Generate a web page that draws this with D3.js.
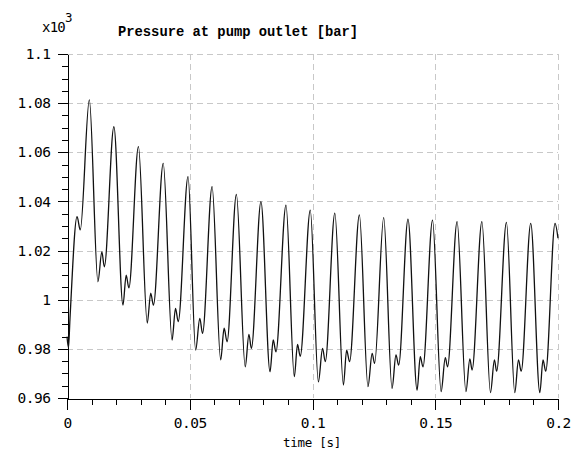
<!DOCTYPE html>
<html>
<head>
<meta charset="utf-8">
<script src="https://cdn.jsdelivr.net/npm/d3@7"></script>
<style>
  html, body { margin: 0; padding: 0; background: #fff; }
  svg { display: block; }
  .tick text { font-family: "DejaVu Sans Mono", monospace; font-size: 14.5px; letter-spacing: -0.5px; fill: #000; }
</style>
</head>
<body>
<svg id="chart" width="586" height="464"></svg>
<script>
// ---- data (pressure in bar x10^3) ----
const timeS = [
  0.0000, 0.0006, 0.0012, 0.0041, 0.0054, 0.0091, 0.0126, 0.0142, 0.0152,
  0.0191, 0.0228, 0.0241, 0.0252, 0.0291, 0.0327, 0.0341, 0.0352,
  0.0392, 0.0428, 0.0442, 0.0453, 0.0493, 0.0524, 0.0541, 0.0552,
  0.0591, 0.0626, 0.0640, 0.0652, 0.0690, 0.0726, 0.0741, 0.0751,
  0.0790, 0.0827, 0.0840, 0.0851, 0.0892, 0.0926, 0.0939, 0.0950,
  0.0991, 0.1024, 0.1041, 0.1052, 0.1091, 0.1126, 0.1139, 0.1151,
  0.1191, 0.1226, 0.1243, 0.1253, 0.1290, 0.1324, 0.1340, 0.1351,
  0.1389, 0.1426, 0.1439, 0.1450, 0.1489, 0.1524, 0.1541, 0.1550,
  0.1589, 0.1625, 0.1641, 0.1650, 0.1690, 0.1725, 0.1741, 0.1750,
  0.1790, 0.1824, 0.1839, 0.1850, 0.1889, 0.1926, 0.1939, 0.1950,
  0.1988, 0.2000
];
const pressure = [
  0.9850, 0.9805, 0.9920, 1.0338, 1.0284, 1.0813, 1.0073, 1.0195, 1.0134,
  1.0704, 0.9978, 1.0100, 1.0048, 1.0623, 0.9905, 1.0027, 0.9978,
  1.0555, 0.9836, 0.9965, 0.9911, 1.0501, 0.9795, 0.9924, 0.9863,
  1.0460, 0.9755, 0.9884, 0.9829, 1.0429, 0.9727, 0.9859, 0.9802,
  1.0399, 0.9707, 0.9836, 0.9788, 1.0385, 0.9687, 0.9818, 0.9770,
  1.0365, 0.9666, 0.9802, 0.9748, 1.0352, 0.9653, 0.9795, 0.9748,
  1.0345, 0.9646, 0.9782, 0.9741, 1.0334, 0.9639, 0.9775, 0.9734,
  1.0328, 0.9632, 0.9768, 0.9727, 1.0324, 0.9626, 0.9764, 0.9727,
  1.0318, 0.9626, 0.9759, 0.9714, 1.0318, 0.9622, 0.9755, 0.9709,
  1.0315, 0.9622, 0.9755, 0.9709, 1.0311, 0.9622, 0.9755, 0.9709,
  1.0311, 1.0250
];
const xTicks = [0, 0.05, 0.1, 0.15, 0.2];
const xTickLabels = ["0", "0.05", "0.1", "0.15", "0.2"];
const yTicks = [0.96, 0.98, 1.0, 1.02, 1.04, 1.06, 1.08, 1.1];
const yTickLabels = ["0.96", "0.98", "1", "1.02", "1.04", "1.06", "1.08", "1.1"];
const xMinor = [0.01,0.02,0.03,0.04,0.06,0.07,0.08,0.09,0.11,0.12,0.13,0.14,0.16,0.17,0.18,0.19];
const yMinor = [0.965,0.97,0.975,0.985,0.99,0.995,1.005,1.01,1.015,1.025,1.03,1.035,1.045,1.05,1.055,1.065,1.07,1.075,1.085,1.09,1.095];
const titleText = "Pressure at pump outlet [bar]";
const xLabelText = "time [s]";

const svg = d3.select("#chart");
const L = 67, R = 558, T = 54, B = 398;
const x = d3.scaleLinear().domain([0, 0.2]).range([L, R]);
const y = d3.scaleLinear().domain([0.96, 1.1]).range([B, T]);

// grid
const grid = svg.append("g").attr("stroke", "#c8c8c8").attr("stroke-width", 1).attr("stroke-dasharray", "6,4").attr("shape-rendering", "crispEdges");
grid.selectAll("line.gx").data(xTicks.filter(d => d > 0)).join("line")
  .attr("x1", d => Math.round(x(d)) + 0.5).attr("x2", d => Math.round(x(d)) + 0.5)
  .attr("y1", T).attr("y2", B);
grid.selectAll("line.gy").data(yTicks.filter(d => d > 0.96)).join("line")
  .attr("y1", d => Math.round(y(d)) + 0.5).attr("y2", d => Math.round(y(d)) + 0.5)
  .attr("x1", L).attr("x2", R);

// minor ticks
const xMinAxis = d3.axisBottom(x).tickValues(xMinor).tickSize(6).tickFormat("").tickSizeOuter(0);
svg.append("g").attr("transform", `translate(0,${B + 0.5})`).call(xMinAxis).call(g => g.select(".domain").remove());
const yMinAxis = d3.axisLeft(y).tickValues(yMinor).tickSize(6).tickFormat("").tickSizeOuter(0);
svg.append("g").attr("transform", `translate(${L + 0.5},0)`).call(yMinAxis).call(g => g.select(".domain").remove());

// major axes
const xAxis = d3.axisBottom(x).tickValues(xTicks).tickSize(11).tickSizeOuter(0)
  .tickFormat((d, i) => xTickLabels[i]).tickPadding(8);
svg.append("g").attr("transform", `translate(0,${B + 0.5})`).call(xAxis);
const yAxis = d3.axisLeft(y).tickValues(yTicks).tickSize(10).tickSizeOuter(0)
  .tickFormat((d, i) => yTickLabels[i]).tickPadding(7);
svg.append("g").attr("transform", `translate(${L + 0.5},0)`).call(yAxis);
svg.selectAll(".domain, .tick line").attr("stroke", "#000").attr("shape-rendering", "crispEdges");

// series
const pts = timeS.map((t, i) => [t, pressure[i]]);
const line = d3.line().x(d => x(d[0])).y(d => y(d[1])).curve(d3.curveMonotoneX);
svg.append("path").datum(pts).attr("d", line)
  .attr("fill", "none").attr("stroke", "#111").attr("stroke-width", 1.3);

// texts
svg.append("text").attr("x", 118).attr("y", 36).text(titleText)
  .attr("font-family", "Liberation Mono, monospace").attr("font-weight", "bold")
  .attr("font-size", "13.8px").attr("fill", "#000");
svg.append("text").attr("x", 312).attr("y", 447).attr("text-anchor", "middle").text(xLabelText)
  .attr("font-family", "DejaVu Sans Mono, monospace").attr("font-size", "12.5px").attr("letter-spacing", "-0.3px").attr("fill", "#000");
const ex = svg.append("text").attr("x", 42).attr("y", 32)
  .attr("font-family", "DejaVu Sans Mono, monospace").attr("font-size", "14px").attr("letter-spacing", "-0.8px").attr("fill", "#000");
ex.append("tspan").text("x10");
ex.append("tspan").attr("dy", -10).attr("font-size", "12.5px").text("3");
</script>
</body>
</html>
